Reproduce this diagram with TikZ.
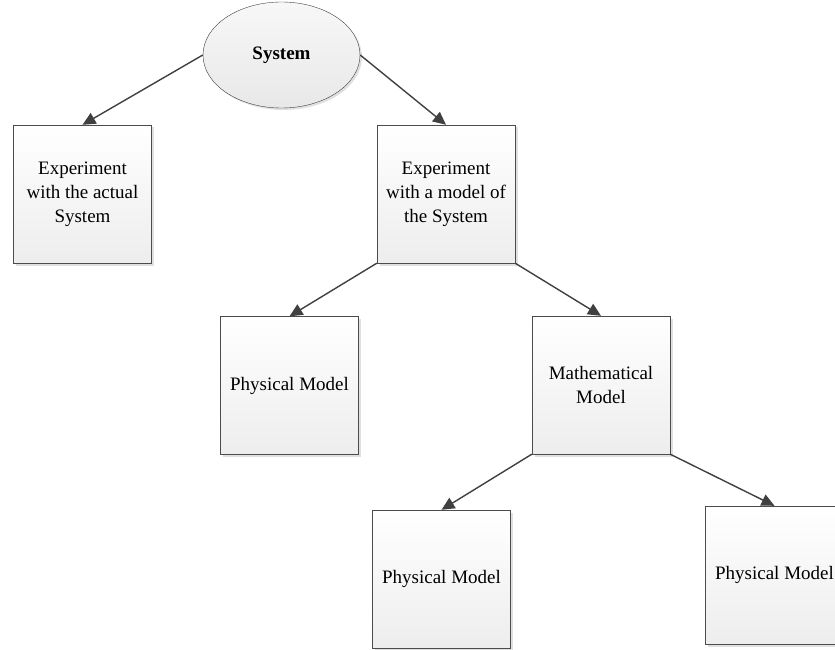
\documentclass[tikz,border=0pt]{standalone}
\usepackage{fontspec}
\setmainfont{Liberation Serif}
\usetikzlibrary{shapes.geometric, arrows.meta, shadows}

\tikzset{boite/.style = {rectangle, draw=black!70, minimum size=138pt, align=center,
                         top color=white, bottom color=black!7,
                         drop shadow={shadow xshift=2.5pt, shadow yshift=-2.5pt, fill=black!12, opacity=1}},
         fleche/.style = {draw=black!75, line width=1.4pt, -{Triangle[length=13pt, width=12pt]}},
         every node/.style = {font=\fontsize{19}{24}\selectfont}
        }

\begin{document}
\begin{tikzpicture}[x=1pt, y=-1pt]
\useasboundingbox (0,0) rectangle (835,650);
\clip (0,0) rectangle (835,650);
\node[ellipse, draw=black!75, minimum width=157pt, minimum height=106pt,
      top color=black!3, bottom color=black!9,
      drop shadow={shadow xshift=2pt, shadow yshift=-2pt, fill=black!12, opacity=1}] (sys) at (281.5,55) {\textbf{System}};
\foreach \n/\x/\y/\t in {reel/82.5/194/{Experiment\\with the actual\\System},
                         modele/446/194/{Experiment\\with a model of\\the System},
                         phys/289.5/385.5/{Physical Model},
                         math/601/385/{Mathematical\\Model},
                         physA/441.5/579/{Physical Model},
                         physB/774.5/575/{Physical Model}}
   {\node[boite] (\n) at (\x, \y) {\t};}
\foreach \p/\f in {sys.west/reel.north, sys.east/modele.north, modele.south west/phys.north,
                   modele.south east/math.north, math.south west/physA.north, math.south east/physB.north}
   \draw[fleche] (\p) -- (\f);
\end{tikzpicture}
\end{document}
